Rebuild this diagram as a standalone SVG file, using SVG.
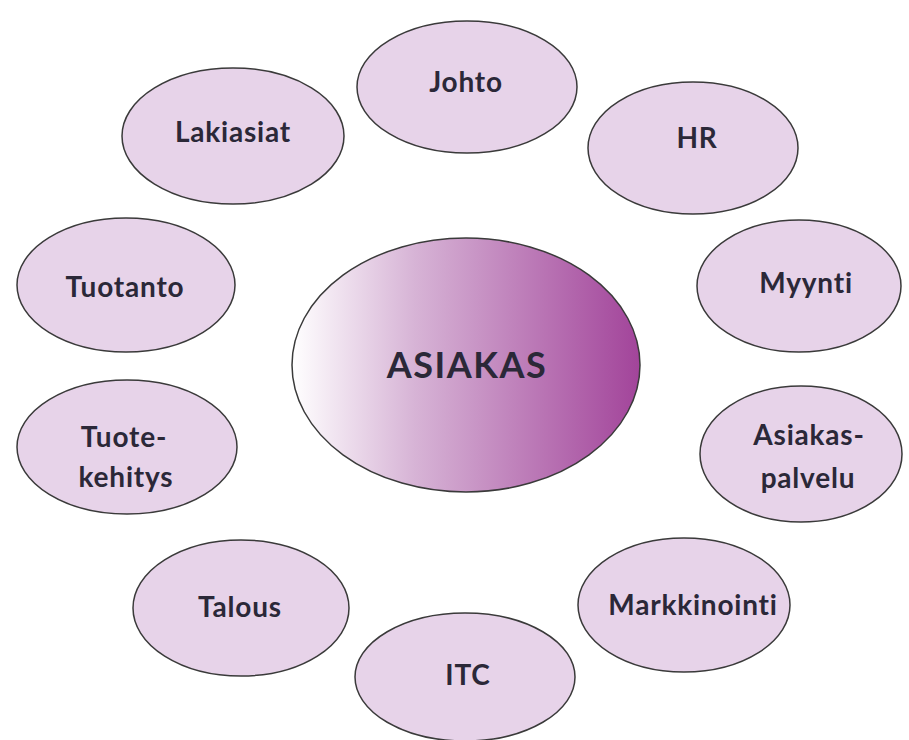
<svg xmlns="http://www.w3.org/2000/svg" width="909" height="740" viewBox="0 0 909 740">
<defs>
<linearGradient id="g" x1="0" y1="0" x2="1" y2="0">
<stop offset="0" stop-color="#ffffff"/>
<stop offset="0.35" stop-color="#d7b4d6"/>
<stop offset="1" stop-color="#a2449a"/>
</linearGradient>
<style>
.n{fill:#e7d3e9;stroke:#3a3a3a;stroke-width:1.5}
.c{fill:url(#g);stroke:#3a3a3a;stroke-width:1.5}
text{font-family:Lato,"Open Sans","DejaVu Sans",sans-serif;font-weight:bold;fill:#2b2838;text-anchor:middle;font-size:28px;letter-spacing:0.8px}
.big{font-size:36px;letter-spacing:1.5px}
</style>
</defs>
<rect width="909" height="740" fill="#ffffff"/>
<g id="connectors"></g>
<g id="asiakas"><ellipse class="c" cx="466" cy="365" rx="174" ry="127"/><text class="big" x="467" y="378">ASIAKAS</text></g>
<g id="johto"><ellipse class="n" cx="467" cy="87" rx="110" ry="66"/><text x="466" y="92">Johto</text></g>
<g id="hr"><ellipse class="n" cx="693" cy="148" rx="105" ry="66"/><text x="697" y="148">HR</text></g>
<g id="lakiasiat"><ellipse class="n" cx="233" cy="136" rx="111" ry="68"/><text x="233" y="142">Lakiasiat</text></g>
<g id="tuotanto"><ellipse class="n" cx="126" cy="285" rx="109" ry="67"/><text x="125" y="297">Tuotanto</text></g>
<g id="myynti"><ellipse class="n" cx="799" cy="286" rx="102" ry="66"/><text x="806" y="293">Myynti</text></g>
<g id="tuotekehitys"><ellipse class="n" cx="127" cy="447" rx="110" ry="67"/><text x="124" y="447">Tuote-</text><text x="126" y="487">kehitys</text></g>
<g id="asiakaspalvelu"><ellipse class="n" cx="801" cy="454" rx="101" ry="68"/><text x="809" y="445">Asiakas-</text><text x="808" y="488">palvelu</text></g>
<g id="talous"><ellipse class="n" cx="241" cy="608" rx="108" ry="68"/><text x="240" y="617">Talous</text></g>
<g id="markkinointi"><ellipse class="n" cx="684" cy="605" rx="106" ry="67"/><text x="693" y="615">Markkinointi</text></g>
<g id="itc"><ellipse class="n" cx="465" cy="677" rx="110" ry="64"/><text x="468" y="685">ITC</text></g>
</svg>
